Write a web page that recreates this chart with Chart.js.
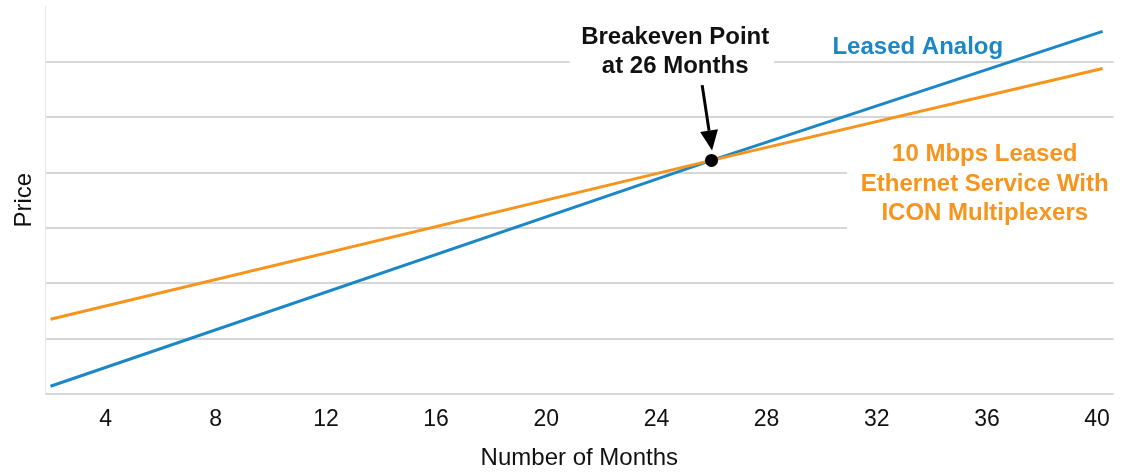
<!DOCTYPE html>
<html>
<head>
<meta charset="utf-8">
<script src="https://cdn.jsdelivr.net/npm/chart.js@4/dist/chart.umd.min.js"></script>
<style>
  html, body { margin: 0; padding: 0; background: #ffffff; }
  #wrap { width: 1122px; height: 472px; position: relative; }
</style>
</head>
<body>
<div id="wrap"><canvas id="c" width="1122" height="472"></canvas></div>
<script>
// ---- data ----
const months = [2, 26, 40.2];
const leasedAnalog = [0.14, 4.22, 6.55];
const ethernetIcon = [1.35, 4.22, 5.88];
const breakevenPoint = [{ x: 26, y: 4.22 }];
const xTickLabels = [4, 8, 12, 16, 20, 24, 28, 32, 36, 40];
const yGridValues = [0, 1, 2, 3, 4, 5, 6, 7];

const seriesNames = ['Leased Analog', '10 Mbps Leased Ethernet Service With ICON Multiplexers'];
const breakevenText = ['Breakeven Point', 'at 26 Months'];
const ethernetText = ['10 Mbps Leased', 'Ethernet Service With', 'ICON Multiplexers'];

// ---- styles ----
const BLUE = '#1b87c6';
const ORANGE = '#f7941d';
const GRID = '#d6d6d6';
const FONT = "'Liberation Sans', Arial, sans-serif";

const toPts = (xs, ys) => xs.map((x, i) => ({ x: x, y: ys[i] }));

// annotation anchors in data units
const notes = {
  breakevenBox: { x0: 20.85, x1: 28.27, y0: 5.58, y1: 6.87 },
  breakevenLines: [{ x: 24.68, y: 6.45 }, { x: 24.68, y: 5.92 }],
  analog: { x: 33.49, y: 6.27 },
  ethernetBox: { x0: 30.92, x1: 41, y0: 2.92, y1: 4.75 },
  ethernetLines: [{ x: 35.92, y: 4.33 }, { x: 35.92, y: 3.79 }, { x: 35.92, y: 3.27 }],
  arrow: { x0: 25.66, y0: 5.58, x1: 26.02, y1: 4.40 }
};

const annotationPlugin = {
  id: 'notes',
  beforeDatasetsDraw(chart) {
    const { ctx, scales: { x, y } } = chart;
    ctx.save();
    ctx.fillStyle = '#ffffff';
    [notes.breakevenBox, notes.ethernetBox].forEach(b => {
      const l = x.getPixelForValue(b.x0), r = x.getPixelForValue(b.x1);
      const t = y.getPixelForValue(b.y1), btm = y.getPixelForValue(b.y0);
      ctx.fillRect(l, t, r - l, btm - t);
    });
    ctx.restore();
  },
  afterDatasetsDraw(chart) {
    const { ctx, scales: { x, y } } = chart;
    ctx.save();
    ctx.textAlign = 'center';
    ctx.textBaseline = 'middle';
    ctx.font = 'bold 24px ' + FONT;
    ctx.fillStyle = '#111111';
    breakevenText.forEach((t, i) => {
      const p = notes.breakevenLines[i];
      ctx.fillText(t, x.getPixelForValue(p.x), y.getPixelForValue(p.y));
    });
    ctx.fillStyle = BLUE;
    ctx.fillText(seriesNames[0], x.getPixelForValue(notes.analog.x), y.getPixelForValue(notes.analog.y));
    ctx.fillStyle = ORANGE;
    ethernetText.forEach((t, i) => {
      const p = notes.ethernetLines[i];
      ctx.fillText(t, x.getPixelForValue(p.x), y.getPixelForValue(p.y));
    });
    // arrow
    const a = notes.arrow;
    const x0 = x.getPixelForValue(a.x0), y0 = y.getPixelForValue(a.y0);
    const x1 = x.getPixelForValue(a.x1), y1 = y.getPixelForValue(a.y1);
    const ang = Math.atan2(y1 - y0, x1 - x0);
    const headLen = 20, headW = 9;
    const bx = x1 - headLen * Math.cos(ang), by = y1 - headLen * Math.sin(ang);
    ctx.strokeStyle = '#000000';
    ctx.lineWidth = 3;
    ctx.beginPath();
    ctx.moveTo(x0, y0);
    ctx.lineTo(bx, by);
    ctx.stroke();
    ctx.fillStyle = '#000000';
    ctx.beginPath();
    ctx.moveTo(x1, y1);
    ctx.lineTo(bx + headW * Math.sin(ang), by - headW * Math.cos(ang));
    ctx.lineTo(bx - headW * Math.sin(ang), by + headW * Math.cos(ang));
    ctx.closePath();
    ctx.fill();
    ctx.restore();
  }
};

new Chart(document.getElementById('c'), {
  type: 'scatter',
  data: {
    datasets: [
      {
        label: seriesNames[1],
        data: toPts(months, ethernetIcon),
        showLine: true,
        borderColor: ORANGE,
        backgroundColor: ORANGE,
        borderWidth: 3,
        pointRadius: 0,
        order: 2
      },
      {
        label: seriesNames[0],
        data: toPts(months, leasedAnalog),
        showLine: true,
        borderColor: BLUE,
        backgroundColor: BLUE,
        borderWidth: 3,
        pointRadius: 0,
        order: 3
      },
      {
        label: 'Breakeven',
        data: breakevenPoint,
        showLine: false,
        pointRadius: 6.5,
        pointBackgroundColor: '#000000',
        pointBorderColor: '#000000',
        pointBorderWidth: 0,
        order: 0
      }
    ]
  },
  options: {
    responsive: false,
    animation: false,
    devicePixelRatio: 1,
    layout: { padding: { top: 5, right: 6, bottom: 0, left: 0 } },
    plugins: {
      legend: { display: false },
      tooltip: { enabled: false },
      title: { display: false }
    },
    scales: {
      x: {
        type: 'linear',
        min: 1.8,
        max: 40.6,
        afterBuildTicks: (s) => { s.ticks = xTickLabels.map(v => ({ value: v })); },
        afterFit: (s) => { s.height = 78; },
        grid: { display: false, drawTicks: false },
        border: { display: false },
        ticks: {
          font: { family: FONT, size: 23 },
          color: '#111111',
          padding: 12,
          maxRotation: 0,
          autoSkip: false
        },
        title: {
          display: true,
          text: 'Number of Months',
          font: { family: FONT, size: 24, lineHeight: 1.1 },
          color: '#111111',
          padding: { top: 0, bottom: 0 }
        }
      },
      y: {
        type: 'linear',
        min: 0,
        max: 7,
        afterBuildTicks: (s) => { s.ticks = yGridValues.map(v => ({ value: v })); },
        afterFit: (s) => { s.width = 45; },
        grid: {
          drawTicks: false,
          lineWidth: 2,
          color: (c) => (c.tick && c.tick.value === 7 ? 'rgba(0,0,0,0)' : GRID)
        },
        border: { display: true, color: '#e6e6e6', width: 1 },
        ticks: { display: false },
        title: {
          display: true,
          text: 'Price',
          font: { family: FONT, size: 24 },
          color: '#111111',
          padding: { top: 10, bottom: 0 }
        }
      }
    }
  },
  plugins: [annotationPlugin]
});
</script>
</body>
</html>
